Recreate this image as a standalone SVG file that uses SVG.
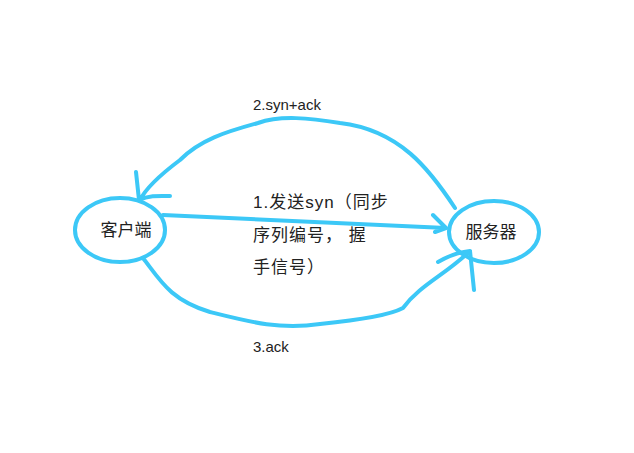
<svg xmlns="http://www.w3.org/2000/svg" width="634" height="453" viewBox="0 0 634 453">
<style>
.s{fill:none;stroke:#3cc8f7;stroke-width:4;stroke-linecap:round;stroke-linejoin:round}
.t{font-family:"Liberation Sans","Noto Sans CJK SC",sans-serif;font-size:15px;fill:#222}
.c{font-family:"Liberation Sans","Noto Sans CJK SC",sans-serif;font-size:17px;letter-spacing:1px;fill:#222}
.n{font-family:"Liberation Sans","Noto Sans CJK SC",sans-serif;font-size:17px;fill:#222}
</style>
<rect width="634" height="453" fill="#fff"/>
<g id="client"><ellipse class="s" cx="120" cy="230" rx="45" ry="32"/><text class="n" x="126" y="236" text-anchor="middle">客户端</text></g>
<g id="server"><ellipse class="s" cx="494" cy="232" rx="45" ry="31"/><text class="n" x="491" y="238" text-anchor="middle">服务器</text></g>
<g id="connectors">
<path class="s" d="M163 215 L446 228 M433 215 L446 228 L435 232"/>
<path class="s" d="M455 208 C430 170 400 130 340 123 C310 118 280 115 258 123 C225 132 200 140 180 160 C160 175 145 190 140 200 M136 172 L139 200 C150 195 160 196 170 196"/>
<path class="s" d="M143 258 C160 280 170 300 210 312 C250 322 280 330 320 324 C360 320 390 315 403 308 C420 285 445 275 470 251 M438 262 C450 255 460 252 470 251 L474 290"/>
</g>
<text class="t" x="253" y="110">2.syn+ack</text>
<text class="c" x="253" y="208">1.发送syn（同步</text>
<text class="c" x="253" y="241">序列编号， 握</text>
<text class="c" x="253" y="273">手信号）</text>
<text class="t" x="253" y="352">3.ack</text>
</svg>
